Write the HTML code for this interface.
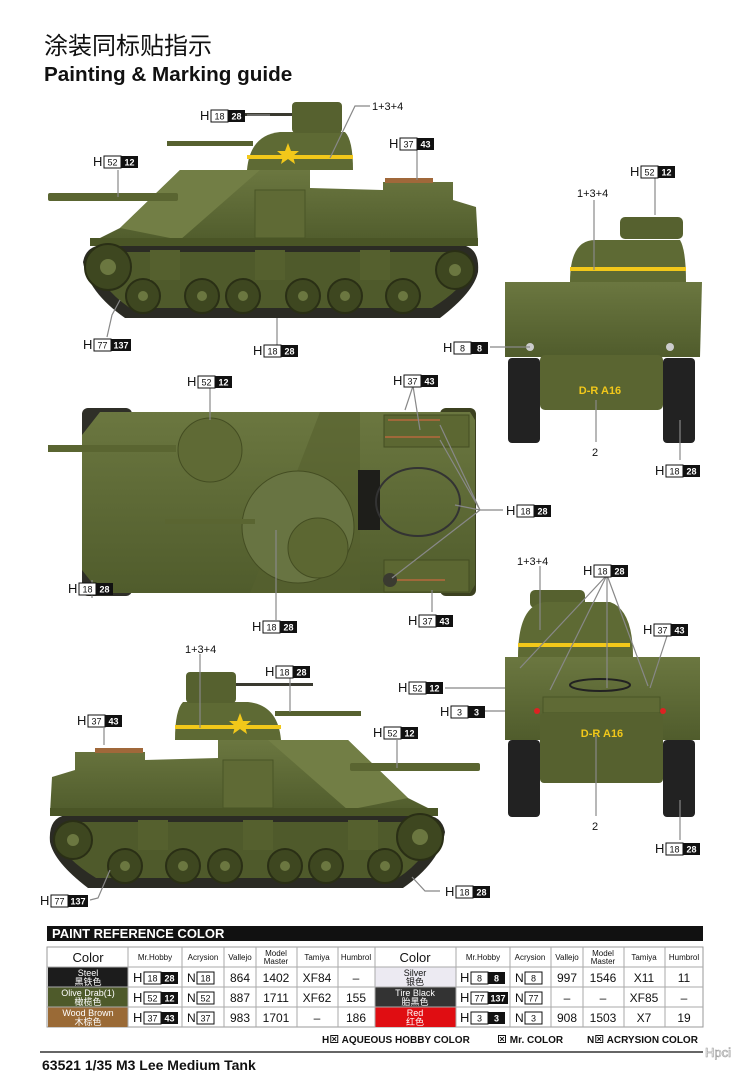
<!DOCTYPE html>
<html><head><meta charset="utf-8"><style>
html,body{margin:0;padding:0;background:#fff;}
svg{display:block;font-family:"Liberation Sans","Noto Sans CJK SC",sans-serif;}
.h{font-size:13px;fill:#111;}
.n{font-size:9px;fill:#111;text-anchor:middle;}
.nw{font-size:9px;fill:#fff;font-weight:bold;text-anchor:middle;}
.wb{fill:#fff;stroke:#111;stroke-width:1;}
.bb{fill:#111;}
.ld{stroke:#888;stroke-width:1.2;fill:none;}
.lb{font-size:11px;fill:#111;}
.th{font-size:12px;fill:#111;text-anchor:middle;}
.ts{font-size:8px;fill:#111;text-anchor:middle;}
.tc{font-size:13px;fill:#111;text-anchor:middle;}
</style></head><body>
<svg width="750" height="1077" viewBox="0 0 750 1077" xmlns="http://www.w3.org/2000/svg">
<defs>
<linearGradient id="og" x1="0" y1="0" x2="0" y2="1"><stop offset="0" stop-color="#6b7740"/><stop offset="1" stop-color="#505c2c"/></linearGradient>
<g id="tank">
  <path d="M83,262 Q86,245 105,245 L462,245 Q480,248 478,272 Q474,292 440,318 L125,318 Q88,292 83,262 Z" fill="#2b2b24"/>
  <path d="M95,262 Q98,252 110,252 L455,252 Q470,255 468,272 Q464,288 432,308 L130,308 Q100,288 95,262 Z" fill="#4f5a2b"/>
  <polygon points="90,243 120,228 180,170 310,170 310,188 383,190 383,182 453,182 453,200 476,207 478,243" fill="url(#og)"/>
  <polygon points="120,228 180,170 260,170 180,240" fill="#727e45"/>
  <rect x="90" y="238" width="388" height="8" fill="#4a5526"/>
  <rect x="255" y="190" width="50" height="48" fill="#5f6a35" stroke="#4a5526"/>
  <path d="M247,170 Q250,135 280,132 L345,132 Q353,140 353,170 Z" fill="#5e6a34"/>
  <rect x="292" y="102" width="50" height="31" rx="4" fill="#56612f"/>
  <rect x="247" y="155" width="106" height="4" fill="#f2c81a"/>
  <polygon points="288,143 291,151 299,151 293,156 295,164 288,159 281,164 283,156 277,151 285,151" fill="#f2c81a"/>
  <rect x="167" y="141" width="86" height="5" fill="#56612f"/>
  <rect x="215" y="113" width="77" height="3" fill="#3a3a30"/>
  <rect x="48" y="193" width="130" height="8" rx="2" fill="#5a6531"/>
  <g fill="#3e4720" stroke="#2a2f15" stroke-width="2">
    <circle cx="108" cy="267" r="23"/><circle cx="455" cy="270" r="19"/>
    <circle cx="143" cy="296" r="17"/><circle cx="202" cy="296" r="17"/><circle cx="243" cy="296" r="17"/>
    <circle cx="303" cy="296" r="17"/><circle cx="345" cy="296" r="17"/><circle cx="403" cy="296" r="17"/>
  </g>
  <g fill="#6b7740">
    <circle cx="108" cy="267" r="8"/><circle cx="455" cy="270" r="6"/>
    <circle cx="143" cy="296" r="5"/><circle cx="202" cy="296" r="5"/><circle cx="243" cy="296" r="5"/>
    <circle cx="303" cy="296" r="5"/><circle cx="345" cy="296" r="5"/><circle cx="403" cy="296" r="5"/>
  </g>
  <g fill="#55602e"><rect x="150" y="250" width="30" height="30"/><rect x="255" y="250" width="30" height="30"/><rect x="360" y="250" width="30" height="30"/></g>
  <rect x="385" y="178" width="48" height="5" fill="#a0683a"/>
</g>
</defs>

<text x="44" y="54" style="font-size:24px;fill:#111;font-family:'Noto Sans CJK SC',sans-serif">涂装同标贴指示</text>
<text x="44" y="81" style="font-size:20.7px;font-weight:bold;fill:#111">Painting &amp; Marking guide</text>

<use href="#tank"/>
<use href="#tank" transform="translate(528,570) scale(-1,1)"/>

<rect x="82" y="408" width="50" height="188" rx="6" fill="#2f2f28"/>
<rect x="440" y="408" width="36" height="188" rx="6" fill="#3c4120"/>
<polygon points="100,412 470,412 475,420 475,585 470,593 100,593 82,570 82,435" fill="url(#og)"/>
<polygon points="320,412 360,412 360,593 250,593" fill="#56612f" opacity=".6"/>
<circle cx="210" cy="450" r="32" fill="#5f6a35" stroke="#444d22"/>
<circle cx="298" cy="527" r="56" fill="#687442" stroke="#444d22"/>
<circle cx="318" cy="548" r="30" fill="#5c6732" stroke="#444d22"/>
<rect x="48" y="445" width="128" height="7" fill="#5a6531"/>
<rect x="165" y="519" width="90" height="5" fill="#5a6531"/>
<rect x="358" y="470" width="22" height="60" fill="#1e1e1a"/>
<ellipse cx="418" cy="502" rx="42" ry="34" fill="none" stroke="#333" stroke-width="2"/>
<rect x="384" y="415" width="85" height="32" fill="#5c6732" stroke="#444d22"/>
<rect x="384" y="560" width="85" height="32" fill="#5c6732" stroke="#444d22"/>
<line x1="388" y1="420" x2="440" y2="420" stroke="#a0683a" stroke-width="2"/>
<line x1="385" y1="437" x2="440" y2="437" stroke="#a0683a" stroke-width="2"/>
<line x1="395" y1="580" x2="445" y2="580" stroke="#a0683a" stroke-width="2"/>
<circle cx="390" cy="580" r="7" fill="#3a3a30"/>

<rect x="508" y="358" width="32" height="85" rx="4" fill="#222"/>
<rect x="663" y="358" width="32" height="85" rx="4" fill="#222"/>
<rect x="620" y="217" width="63" height="22" rx="5" fill="#56612f"/>
<path d="M570,282 Q570,240 595,240 L680,240 Q686,250 686,282 Z" fill="#5e6a34"/>
<rect x="570" y="267" width="116" height="4" fill="#f2c81a"/>
<polygon points="505,282 702,282 700,357 505,357" fill="url(#og)"/>
<rect x="540" y="355" width="123" height="55" rx="5" fill="#5a6531"/>
<circle cx="530" cy="347" r="4" fill="#ccc"/><circle cx="670" cy="347" r="4" fill="#ccc"/>
<text x="600" y="394" style="font-size:11px;font-weight:bold;fill:#f2c81a;text-anchor:middle">D-R A16</text>

<rect x="508" y="740" width="32" height="77" rx="4" fill="#222"/>
<rect x="663" y="740" width="32" height="77" rx="4" fill="#222"/>
<rect x="530" y="590" width="55" height="18" rx="5" fill="#56612f"/>
<path d="M518,657 Q518,605 545,602 L610,602 Q633,610 633,657 Z" fill="#5e6a34"/>
<rect x="518" y="643" width="112" height="4" fill="#f2c81a"/>
<polygon points="505,657 700,657 700,740 505,740" fill="url(#og)"/>
<rect x="543" y="697" width="117" height="16" fill="#5f6a35" stroke="#4a5526"/>
<rect x="540" y="713" width="123" height="70" rx="4" fill="#56612f"/>
<circle cx="537" cy="711" r="3" fill="#d22"/><circle cx="663" cy="711" r="3" fill="#d22"/>
<ellipse cx="600" cy="685" rx="30" ry="6" fill="none" stroke="#222" stroke-width="2"/>
<text x="602" y="737" style="font-size:11px;font-weight:bold;fill:#f2c81a;text-anchor:middle">D-R A16</text>

<g class="ld">
<path d="M247,115 L270,115"/><path d="M370,106 L355,106 L330,158"/>
<path d="M118,170 L118,197"/><path d="M417,150 L417,180"/>
<path d="M107,337 L112,315 L120,300"/><path d="M277,345 L277,318"/>
<path d="M490,347 L530,347"/><path d="M655,178 L655,215"/>
<path d="M594,200 L594,270"/><path d="M596,442 L596,400"/><path d="M680,460 L680,420"/>
<path d="M210,388 L210,420"/><path d="M413,386 L405,410 M413,386 L420,430"/>
<path d="M92,580 L92,598"/><path d="M276,620 L276,530"/><path d="M432,612 L432,590"/>
<path d="M503,510 L480,510 L440,425 M480,510 L440,440 M480,510 L455,505 M480,510 L392,578"/>
<path d="M540,566 L540,630"/><path d="M607,575 L520,668 M607,575 L550,690 M607,575 L607,688 M607,575 L648,686"/>
<path d="M667,636 L650,688"/><path d="M445,688 L505,688"/><path d="M480,711 L505,711"/>
<path d="M596,816 L596,735"/><path d="M680,840 L680,800"/>
<path d="M200,654 L200,728"/><path d="M290,675 L290,712"/><path d="M104,728 L104,745"/>
<path d="M397,740 L397,768"/><path d="M90,900 L98,898 L110,870"/><path d="M440,891 L425,891 L412,877"/>
</g>

<g>
<g transform="translate(200,120)"><text class="h">H</text><rect class="wb" x="11" y="-10" width="17" height="12"/><text class="n" x="19.5" y="-0.5">18</text><rect class="bb" x="28" y="-10" width="17" height="12"/><text class="nw" x="36.5" y="-0.5">28</text></g>
<g transform="translate(93,166)"><text class="h">H</text><rect class="wb" x="11" y="-10" width="17" height="12"/><text class="n" x="19.5" y="-0.5">52</text><rect class="bb" x="28" y="-10" width="17" height="12"/><text class="nw" x="36.5" y="-0.5">12</text></g>
<g transform="translate(389,148)"><text class="h">H</text><rect class="wb" x="11" y="-10" width="17" height="12"/><text class="n" x="19.5" y="-0.5">37</text><rect class="bb" x="28" y="-10" width="17" height="12"/><text class="nw" x="36.5" y="-0.5">43</text></g>
<g transform="translate(83,349)"><text class="h">H</text><rect class="wb" x="11" y="-10" width="17" height="12"/><text class="n" x="19.5" y="-0.5">77</text><rect class="bb" x="28" y="-10" width="20" height="12"/><text class="nw" x="38" y="-0.5">137</text></g>
<g transform="translate(253,355)"><text class="h">H</text><rect class="wb" x="11" y="-10" width="17" height="12"/><text class="n" x="19.5" y="-0.5">18</text><rect class="bb" x="28" y="-10" width="17" height="12"/><text class="nw" x="36.5" y="-0.5">28</text></g>
<g transform="translate(443,352)"><text class="h">H</text><rect class="wb" x="11" y="-10" width="17" height="12"/><text class="n" x="19.5" y="-0.5">8</text><rect class="bb" x="28" y="-10" width="17" height="12"/><text class="nw" x="36.5" y="-0.5">8</text></g>
<g transform="translate(630,176)"><text class="h">H</text><rect class="wb" x="11" y="-10" width="17" height="12"/><text class="n" x="19.5" y="-0.5">52</text><rect class="bb" x="28" y="-10" width="17" height="12"/><text class="nw" x="36.5" y="-0.5">12</text></g>
<g transform="translate(655,475)"><text class="h">H</text><rect class="wb" x="11" y="-10" width="17" height="12"/><text class="n" x="19.5" y="-0.5">18</text><rect class="bb" x="28" y="-10" width="17" height="12"/><text class="nw" x="36.5" y="-0.5">28</text></g>
<g transform="translate(187,386)"><text class="h">H</text><rect class="wb" x="11" y="-10" width="17" height="12"/><text class="n" x="19.5" y="-0.5">52</text><rect class="bb" x="28" y="-10" width="17" height="12"/><text class="nw" x="36.5" y="-0.5">12</text></g>
<g transform="translate(393,385)"><text class="h">H</text><rect class="wb" x="11" y="-10" width="17" height="12"/><text class="n" x="19.5" y="-0.5">37</text><rect class="bb" x="28" y="-10" width="17" height="12"/><text class="nw" x="36.5" y="-0.5">43</text></g>
<g transform="translate(506,515)"><text class="h">H</text><rect class="wb" x="11" y="-10" width="17" height="12"/><text class="n" x="19.5" y="-0.5">18</text><rect class="bb" x="28" y="-10" width="17" height="12"/><text class="nw" x="36.5" y="-0.5">28</text></g>
<g transform="translate(68,593)"><text class="h">H</text><rect class="wb" x="11" y="-10" width="17" height="12"/><text class="n" x="19.5" y="-0.5">18</text><rect class="bb" x="28" y="-10" width="17" height="12"/><text class="nw" x="36.5" y="-0.5">28</text></g>
<g transform="translate(252,631)"><text class="h">H</text><rect class="wb" x="11" y="-10" width="17" height="12"/><text class="n" x="19.5" y="-0.5">18</text><rect class="bb" x="28" y="-10" width="17" height="12"/><text class="nw" x="36.5" y="-0.5">28</text></g>
<g transform="translate(408,625)"><text class="h">H</text><rect class="wb" x="11" y="-10" width="17" height="12"/><text class="n" x="19.5" y="-0.5">37</text><rect class="bb" x="28" y="-10" width="17" height="12"/><text class="nw" x="36.5" y="-0.5">43</text></g>
<g transform="translate(583,575)"><text class="h">H</text><rect class="wb" x="11" y="-10" width="17" height="12"/><text class="n" x="19.5" y="-0.5">18</text><rect class="bb" x="28" y="-10" width="17" height="12"/><text class="nw" x="36.5" y="-0.5">28</text></g>
<g transform="translate(643,634)"><text class="h">H</text><rect class="wb" x="11" y="-10" width="17" height="12"/><text class="n" x="19.5" y="-0.5">37</text><rect class="bb" x="28" y="-10" width="17" height="12"/><text class="nw" x="36.5" y="-0.5">43</text></g>
<g transform="translate(398,692)"><text class="h">H</text><rect class="wb" x="11" y="-10" width="17" height="12"/><text class="n" x="19.5" y="-0.5">52</text><rect class="bb" x="28" y="-10" width="17" height="12"/><text class="nw" x="36.5" y="-0.5">12</text></g>
<g transform="translate(440,716)"><text class="h">H</text><rect class="wb" x="11" y="-10" width="17" height="12"/><text class="n" x="19.5" y="-0.5">3</text><rect class="bb" x="28" y="-10" width="17" height="12"/><text class="nw" x="36.5" y="-0.5">3</text></g>
<g transform="translate(655,853)"><text class="h">H</text><rect class="wb" x="11" y="-10" width="17" height="12"/><text class="n" x="19.5" y="-0.5">18</text><rect class="bb" x="28" y="-10" width="17" height="12"/><text class="nw" x="36.5" y="-0.5">28</text></g>
<g transform="translate(265,676)"><text class="h">H</text><rect class="wb" x="11" y="-10" width="17" height="12"/><text class="n" x="19.5" y="-0.5">18</text><rect class="bb" x="28" y="-10" width="17" height="12"/><text class="nw" x="36.5" y="-0.5">28</text></g>
<g transform="translate(77,725)"><text class="h">H</text><rect class="wb" x="11" y="-10" width="17" height="12"/><text class="n" x="19.5" y="-0.5">37</text><rect class="bb" x="28" y="-10" width="17" height="12"/><text class="nw" x="36.5" y="-0.5">43</text></g>
<g transform="translate(373,737)"><text class="h">H</text><rect class="wb" x="11" y="-10" width="17" height="12"/><text class="n" x="19.5" y="-0.5">52</text><rect class="bb" x="28" y="-10" width="17" height="12"/><text class="nw" x="36.5" y="-0.5">12</text></g>
<g transform="translate(40,905)"><text class="h">H</text><rect class="wb" x="11" y="-10" width="17" height="12"/><text class="n" x="19.5" y="-0.5">77</text><rect class="bb" x="28" y="-10" width="20" height="12"/><text class="nw" x="38" y="-0.5">137</text></g>
<g transform="translate(445,896)"><text class="h">H</text><rect class="wb" x="11" y="-10" width="17" height="12"/><text class="n" x="19.5" y="-0.5">18</text><rect class="bb" x="28" y="-10" width="17" height="12"/><text class="nw" x="36.5" y="-0.5">28</text></g>
</g>
<text class="lb" x="372" y="110">1+3+4</text>
<text class="lb" x="577" y="197">1+3+4</text>
<text class="lb" x="517" y="565">1+3+4</text>
<text class="lb" x="185" y="653">1+3+4</text>
<text class="lb" x="592" y="456">2</text>
<text class="lb" x="592" y="830">2</text>

<rect x="47" y="926" width="656" height="15" fill="#111"/>
<text x="52" y="938" style="font-size:13px;font-weight:bold;fill:#fff">PAINT  REFERENCE COLOR</text>
<rect x="47" y="947" width="656" height="80" fill="#fff" stroke="#999"/>
<rect x="48" y="967" width="80" height="20" fill="#1c1c1c"/>
<rect x="48" y="987" width="80" height="20" fill="#4e5a2a"/>
<rect x="48" y="1007" width="80" height="20" fill="#9a6a36"/>
<rect x="375" y="967" width="81" height="20" fill="#eceaf2"/>
<rect x="375" y="987" width="81" height="20" fill="#333"/>
<rect x="375" y="1007" width="81" height="20" fill="#e00d12"/>
<g stroke="#aaa" stroke-width="1">
<line x1="47" y1="967" x2="703" y2="967"/><line x1="47" y1="987" x2="703" y2="987"/><line x1="47" y1="1007" x2="703" y2="1007"/>
<line x1="128" y1="947" x2="128" y2="1027"/><line x1="182" y1="947" x2="182" y2="1027"/><line x1="224" y1="947" x2="224" y2="1027"/>
<line x1="256" y1="947" x2="256" y2="1027"/><line x1="297" y1="947" x2="297" y2="1027"/><line x1="338" y1="947" x2="338" y2="1027"/>
<line x1="375" y1="947" x2="375" y2="1027"/><line x1="456" y1="947" x2="456" y2="1027"/><line x1="510" y1="947" x2="510" y2="1027"/>
<line x1="551" y1="947" x2="551" y2="1027"/><line x1="583" y1="947" x2="583" y2="1027"/><line x1="624" y1="947" x2="624" y2="1027"/><line x1="665" y1="947" x2="665" y2="1027"/>
</g>
<text class="tc" x="88" y="962">Color</text><text class="ts" x="155" y="960">Mr.Hobby</text><text class="ts" x="203" y="960">Acrysion</text><text class="ts" x="240" y="960">Vallejo</text><text class="ts" x="276" y="956">Model</text><text class="ts" x="276" y="964">Master</text><text class="ts" x="317" y="960">Tamiya</text><text class="ts" x="356" y="960">Humbrol</text>
<text class="tc" x="415" y="962">Color</text><text class="ts" x="483" y="960">Mr.Hobby</text><text class="ts" x="530" y="960">Acrysion</text><text class="ts" x="567" y="960">Vallejo</text><text class="ts" x="603" y="956">Model</text><text class="ts" x="603" y="964">Master</text><text class="ts" x="644" y="960">Tamiya</text><text class="ts" x="684" y="960">Humbrol</text>
<g style="font-size:9px;text-anchor:middle">
<text x="88" y="976" fill="#fff">Steel</text><text x="88" y="985" fill="#fff">黑铁色</text>
<text x="88" y="996" fill="#fff">Olive Drab(1)</text><text x="88" y="1005" fill="#fff">橄榄色</text>
<text x="88" y="1016" fill="#fff">Wood Brown</text><text x="88" y="1025" fill="#fff">木棕色</text>
<text x="415" y="976" fill="#111">Silver</text><text x="415" y="985" fill="#111">银色</text>
<text x="415" y="996" fill="#fff">Tire Black</text><text x="415" y="1005" fill="#fff">胎黑色</text>
<text x="415" y="1016" fill="#fff">Red</text><text x="415" y="1025" fill="#fff">红色</text>
</g>
<g transform="translate(133,982)"><text class="h">H</text><rect class="wb" x="11" y="-10" width="17" height="12"/><text class="n" x="19.5" y="-0.5">18</text><rect class="bb" x="28" y="-10" width="17" height="12"/><text class="nw" x="36.5" y="-0.5">28</text></g>
<g transform="translate(133,1002)"><text class="h">H</text><rect class="wb" x="11" y="-10" width="17" height="12"/><text class="n" x="19.5" y="-0.5">52</text><rect class="bb" x="28" y="-10" width="17" height="12"/><text class="nw" x="36.5" y="-0.5">12</text></g>
<g transform="translate(133,1022)"><text class="h">H</text><rect class="wb" x="11" y="-10" width="17" height="12"/><text class="n" x="19.5" y="-0.5">37</text><rect class="bb" x="28" y="-10" width="17" height="12"/><text class="nw" x="36.5" y="-0.5">43</text></g>
<g transform="translate(460,982)"><text class="h">H</text><rect class="wb" x="11" y="-10" width="17" height="12"/><text class="n" x="19.5" y="-0.5">8</text><rect class="bb" x="28" y="-10" width="17" height="12"/><text class="nw" x="36.5" y="-0.5">8</text></g>
<g transform="translate(460,1002)"><text class="h">H</text><rect class="wb" x="11" y="-10" width="17" height="12"/><text class="n" x="19.5" y="-0.5">77</text><rect class="bb" x="28" y="-10" width="20" height="12"/><text class="nw" x="38" y="-0.5">137</text></g>
<g transform="translate(460,1022)"><text class="h">H</text><rect class="wb" x="11" y="-10" width="17" height="12"/><text class="n" x="19.5" y="-0.5">3</text><rect class="bb" x="28" y="-10" width="17" height="12"/><text class="nw" x="36.5" y="-0.5">3</text></g>
<g style="font-size:12px;fill:#111">
<text x="187" y="982">N</text><rect class="wb" x="197" y="972" width="17" height="12"/><text class="n" x="205.5" y="981.5">18</text>
<text x="187" y="1002">N</text><rect class="wb" x="197" y="992" width="17" height="12"/><text class="n" x="205.5" y="1001.5">52</text>
<text x="187" y="1022">N</text><rect class="wb" x="197" y="1012" width="17" height="12"/><text class="n" x="205.5" y="1021.5">37</text>
<text x="515" y="982">N</text><rect class="wb" x="525" y="972" width="17" height="12"/><text class="n" x="533.5" y="981.5">8</text>
<text x="515" y="1002">N</text><rect class="wb" x="525" y="992" width="17" height="12"/><text class="n" x="533.5" y="1001.5">77</text>
<text x="515" y="1022">N</text><rect class="wb" x="525" y="1012" width="17" height="12"/><text class="n" x="533.5" y="1021.5">3</text>
</g>
<g style="font-size:12px;fill:#111;text-anchor:middle">
<text x="240" y="982">864</text><text x="276" y="982">1402</text><text x="317" y="982">XF84</text><text x="356" y="982">–</text>
<text x="240" y="1002">887</text><text x="276" y="1002">1711</text><text x="317" y="1002">XF62</text><text x="356" y="1002">155</text>
<text x="240" y="1022">983</text><text x="276" y="1022">1701</text><text x="317" y="1022">–</text><text x="356" y="1022">186</text>
<text x="567" y="982">997</text><text x="603" y="982">1546</text><text x="644" y="982">X11</text><text x="684" y="982">11</text>
<text x="567" y="1002">–</text><text x="603" y="1002">–</text><text x="644" y="1002">XF85</text><text x="684" y="1002">–</text>
<text x="567" y="1022">908</text><text x="603" y="1022">1503</text><text x="644" y="1022">X7</text><text x="684" y="1022">19</text>
</g>
<text x="322" y="1043" style="font-size:10px;font-weight:bold;fill:#111">H⊠ AQUEOUS HOBBY COLOR</text>
<text x="497" y="1043" style="font-size:10px;font-weight:bold;fill:#111">⊠ Mr. COLOR</text>
<text x="587" y="1043" style="font-size:10px;font-weight:bold;fill:#111">N⊠ ACRYSION COLOR</text>
<line x1="40" y1="1052" x2="703" y2="1052" stroke="#333" stroke-width="1.5"/>
<text x="42" y="1070" style="font-size:14px;font-weight:bold;fill:#111">63521 1/35 M3 Lee Medium Tank</text>
<text x="705" y="1057" style="font-size:13px;fill:#fff;stroke:#999;stroke-width:0.6">Hpci</text>
</svg>
</body></html>
